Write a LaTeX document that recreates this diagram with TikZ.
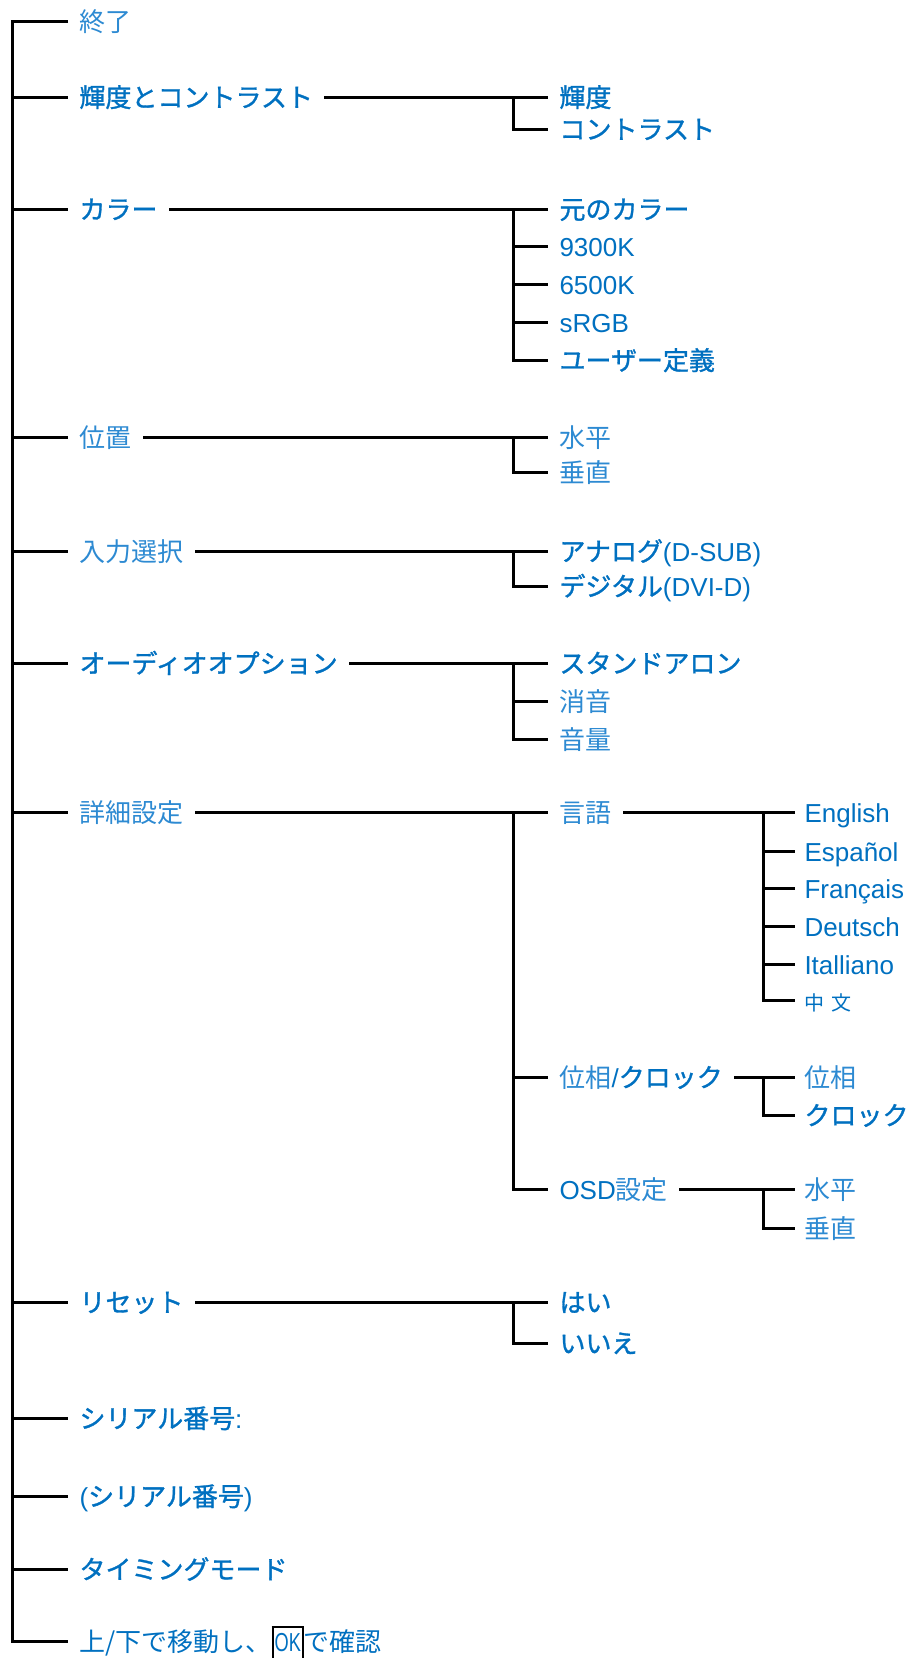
\documentclass[tikz,border=0pt]{standalone}
\usepackage{fontspec}
\usepackage{graphicx}
\setmainfont{Liberation Sans}
\newfontfamily\jp{Noto Sans CJK JP}
\newfontfamily\jpb[FakeBold=1.2]{Noto Sans CJK JP}
\definecolor{db}{RGB}{0,112,192}
\definecolor{lb}{RGB}{45,138,210}
\newcommand\J[1]{{\jpb #1}}
\newcommand\T[1]{{\jp\color{lb}#1}}
\newcommand\okbox{{\color{black}\setlength{\fboxrule}{2pt}\setlength{\fboxsep}{0pt}\fbox{\rule[-12pt]{0pt}{35pt}\hspace{1pt}\color{db}\scalebox{0.7}[1]{OK}\hspace{1pt}}}}
\begin{document}
\begin{tikzpicture}[x=1pt,y=-1pt,line width=3pt,
  lab/.style={anchor=west,inner xsep=10pt,inner ysep=0pt,text height=20pt,text depth=0pt,font=\fontsize{26}{30}\selectfont,text=db},
  lab3/.style={lab,inner xsep=8pt}]
\useasboundingbox (0,0) rectangle (906,1658);
\coordinate (trunk) at (12,21);
\coordinate (v2) at (513,0);
\coordinate (v3) at (763,0);
% level 1
\node[lab] (exit) at (68,21) {\T{終了}};
\node[lab] (bright) at (68,97) {\J{輝度とコントラスト}};
\node[lab] (color) at (68,209) {\J{カラー}};
\node[lab] (pos) at (68,437) {\T{位置}};
\node[lab] (input) at (68,551) {\T{入力選択}};
\node[lab] (audio) at (68,663) {\J{オーディオオプション}};
\node[lab] (adv) at (68,812) {\T{詳細設定}};
\node[lab] (reset) at (68,1302) {\J{リセット}};
\node[lab] (serial) at (68,1418) {\J{シリアル番号}:};
\node[lab] (serialv) at (68,1496) {(\J{シリアル番号})};
\node[lab] (timing) at (68,1569) {\J{タイミングモード}};
\node[lab] (nav) at (68,1641) {{\jp 上/下で移動し、}\okbox{\jp で確認}};
% level 2
\node[lab] (b1) at (548,97) {\J{輝度}};
\node[lab] (b2) at (548,129) {\J{コントラスト}};
\node[lab] (c1) at (548,209) {\J{元のカラー}};
\node[lab] (c2) at (548,246) {9300K};
\node[lab] (c3) at (548,284) {6500K};
\node[lab] (c4) at (548,322) {sRGB};
\node[lab] (c5) at (548,360) {\J{ユーザー定義}};
\node[lab] (p1) at (548,437) {\T{水平}};
\node[lab] (p2) at (548,472) {\T{垂直}};
\node[lab] (i1) at (548,551) {\J{アナログ}(D-SUB)};
\node[lab] (i2) at (548,586) {\J{デジタル}(DVI-D)};
\node[lab] (a1) at (548,663) {\J{スタンドアロン}};
\node[lab] (a2) at (548,701) {\T{消音}};
\node[lab] (a3) at (548,739) {\T{音量}};
\node[lab] (d1) at (548,812) {\T{言語}};
\node[lab] (d2) at (548,1077) {\T{位相}/\J{クロック}};
\node[lab] (d3) at (548,1189) {OSD\T{設定}};
\node[lab] (r1) at (548,1302) {\J{はい}};
\node[lab] (r2) at (548,1343) {\J{いいえ}};
% level 3
\node[lab3] (g1) at (795,812) {English};
\node[lab3] (g2) at (795,851) {Español};
\node[lab3] (g3) at (795,888) {Français};
\node[lab3] (g4) at (795,926) {Deutsch};
\node[lab3] (g5) at (795,964) {Italliano};
\node[lab3] (g6) at (795,1000) {{\jp\fontsize{20}{24}\selectfont 中\hspace{7pt}文}};
\node[lab3] (h1) at (795,1077) {\T{位相}};
\node[lab3] (h2) at (795,1115) {\J{クロック}};
\node[lab3] (o1) at (795,1189) {\T{水平}};
\node[lab3] (o2) at (795,1228) {\T{垂直}};
% trunk
\draw (exit.west) -- (exit.west -| trunk) -- (nav.west -| trunk) -- (nav.west);
\foreach \n in {bright,color,pos,input,audio,adv,reset,serial,serialv,timing}
  \draw (\n.west -| trunk) -- (\n.west);
% level-2 groups
\draw (bright.east) -- (b1.west);
\draw (b1.west -| v2) -- (b2.west -| v2) -- (b2.west);
\draw (color.east) -- (c1.west);
\draw (c1.west -| v2) -- (c5.west -| v2) -- (c5.west);
\foreach \n in {c2,c3,c4} \draw (\n.west -| v2) -- (\n.west);
\draw (pos.east) -- (p1.west);
\draw (p1.west -| v2) -- (p2.west -| v2) -- (p2.west);
\draw (input.east) -- (i1.west);
\draw (i1.west -| v2) -- (i2.west -| v2) -- (i2.west);
\draw (audio.east) -- (a1.west);
\draw (a1.west -| v2) -- (a3.west -| v2) -- (a3.west);
\draw (a2.west -| v2) -- (a2.west);
\draw (adv.east) -- (d1.west);
\draw (d1.west -| v2) -- (d3.west -| v2) -- (d3.west);
\draw (d2.west -| v2) -- (d2.west);
\draw (reset.east) -- (r1.west);
\draw (r1.west -| v2) -- (r2.west -| v2) -- (r2.west);
% level-3 groups
\draw (d1.east) -- (g1.west);
\draw (g1.west -| v3) -- (g6.west -| v3) -- (g6.west);
\foreach \n in {g2,g3,g4,g5} \draw (\n.west -| v3) -- (\n.west);
\draw (d2.east) -- (h1.west);
\draw (h1.west -| v3) -- (h2.west -| v3) -- (h2.west);
\draw (d3.east) -- (o1.west);
\draw (o1.west -| v3) -- (o2.west -| v3) -- (o2.west);
\end{tikzpicture}
\end{document}
